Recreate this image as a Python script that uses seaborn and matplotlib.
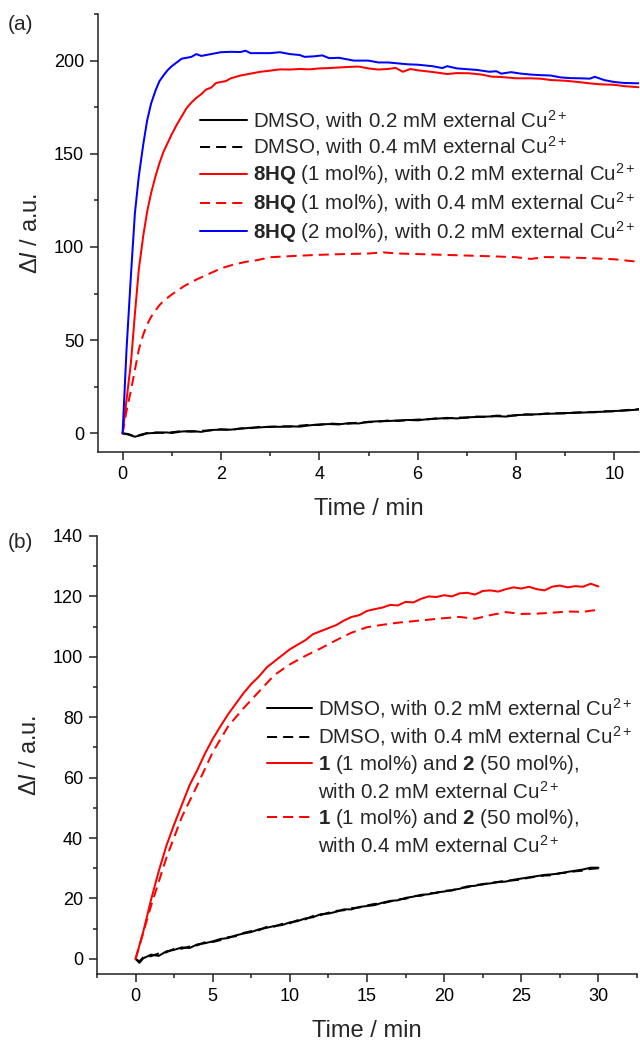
import matplotlib
matplotlib.use("Agg")
import matplotlib.pyplot as plt
import numpy as np
import pandas as pd
import seaborn as sns
from matplotlib.lines import Line2D
from matplotlib.ticker import MultipleLocator

# ---------------- Panel (a) data ----------------
a_t_black = [0, 0.1, 0.25, 0.4, 0.5, 0.7, 0.9, 1.0, 1.2, 1.4, 1.6, 1.8, 2.0, 2.2, 2.4, 2.6, 2.8, 3.0,
             3.2, 3.4, 3.6, 3.8, 4.0, 4.2, 4.4, 4.6, 4.8, 5.0, 5.2, 5.4, 5.6, 5.8, 6.0, 6.2, 6.4, 6.6,
             6.8, 7.0, 7.2, 7.4, 7.6, 7.8, 8.0, 8.2, 8.4, 8.6, 8.8, 9.0, 9.2, 9.4, 9.6, 9.8, 10.0, 10.2, 10.5]
a_dmso_02 = [0, -0.5, -1.8, -0.8, 0, 0.3, 0.5, 0.2, 1.0, 1.2, 0.8, 1.8, 2.0, 2.0, 2.5, 3.0, 3.2, 3.6,
             3.5, 3.8, 3.6, 4.3, 4.8, 5.0, 4.8, 5.5, 5.3, 6.2, 6.5, 6.6, 6.9, 7.2, 7.0, 7.6, 7.9, 8.3,
             8.0, 8.6, 8.8, 9.0, 9.2, 9.0, 9.8, 10.0, 10.2, 10.5, 10.6, 10.9, 11.0, 11.2, 11.5, 11.6, 12.0, 12.2, 12.8]
a_dmso_04 = [0, -0.3, -1.5, -0.5, 0.2, 0.5, 0.2, 0.6, 1.2, 0.9, 1.4, 1.6, 2.2, 1.8, 2.7, 2.8, 3.5, 3.4,
             3.8, 3.6, 4.1, 4.6, 4.5, 5.3, 5.0, 5.2, 5.8, 6.0, 6.3, 6.9, 6.7, 7.0, 7.4, 7.5, 8.1, 8.0,
             8.5, 8.4, 9.0, 8.8, 9.5, 9.4, 9.6, 10.2, 10.0, 10.6, 10.8, 10.7, 11.2, 11.4, 11.3, 11.9, 11.8, 12.4, 13.0]

a_t_red = [0, 0.08, 0.17, 0.25, 0.33, 0.42, 0.5, 0.58, 0.67, 0.75, 0.83, 0.92, 1.0, 1.1, 1.2, 1.3, 1.4,
           1.5, 1.6, 1.7, 1.8, 1.9, 2.0, 2.1, 2.2, 2.4, 2.6, 2.8, 3.0, 3.2, 3.4, 3.6, 3.8, 4.0, 4.2, 4.4,
           4.6, 4.8, 5.0, 5.2, 5.4, 5.55, 5.7, 5.85, 6.0, 6.3, 6.6, 6.8, 7.05, 7.3, 7.5, 7.7, 8.0, 8.3,
           8.5, 8.7, 9.0, 9.2, 9.5, 9.7, 10.0, 10.2, 10.5]
a_8hq1_02 = [0, 18, 38, 64, 88, 106, 119, 129, 138, 145, 151, 156, 160.5, 165.5, 170, 174.5, 177.5, 180,
             182, 184.5, 185.5, 188, 188.5, 189, 190.5, 192, 193, 194, 194.6, 195.3, 195.2, 195.5, 195.3,
             195.8, 196, 196.3, 196.6, 196.8, 195.8, 195.2, 195.5, 196.1, 194, 195.5, 194.8, 193.9,
             192.8, 193.3, 193.2, 192.5, 191.4, 191.2, 190.5, 190.5, 190.3, 189.6, 189.2, 188.7, 187.8,
             187.3, 187, 186.3, 185.7]

a_t_red_dash = [0, 0.08, 0.17, 0.25, 0.33, 0.42, 0.5, 0.58, 0.67, 0.75, 0.83, 1.0, 1.25, 1.5, 1.75, 2.0,
                2.25, 2.5, 2.75, 3.0, 3.5, 4.0, 4.5, 5.0, 5.3, 5.6, 6.0, 6.5, 7.0, 7.5, 8.0, 8.3, 8.6,
                9.0, 9.5, 10.0, 10.5]
a_8hq1_04 = [0, 12, 23, 34, 45, 53, 58.5, 62.5, 66, 68.8, 71, 74.5, 79, 82.5, 85.5, 88.5, 90.5, 92, 93,
             94.5, 95.2, 95.8, 96.2, 96.5, 97.1, 96.5, 96.2, 95.8, 95.4, 95, 94.5, 93.6, 94.6, 94.4,
             94, 93.4, 92]

a_t_blue = [0, 0.08, 0.17, 0.25, 0.33, 0.42, 0.5, 0.58, 0.67, 0.75, 0.83, 0.92, 1.0, 1.1, 1.2, 1.3,
            1.4, 1.5, 1.6, 1.8, 2.0, 2.2, 2.4, 2.5, 2.6, 2.8, 3.0, 3.2, 3.4, 3.6, 3.7, 3.9, 4.06, 4.2,
            4.4, 4.7, 5.0, 5.2, 5.4, 5.6, 5.8, 6.0, 6.3, 6.5, 6.6, 6.8, 7.05, 7.2, 7.46, 7.6, 7.7, 7.9,
            8.1, 8.3, 8.5, 8.7, 8.9, 9.1, 9.3, 9.5, 9.6, 9.8, 10.0, 10.2, 10.5]
a_8hq2_02 = [0, 45, 85, 118, 138, 155, 168, 177, 184, 189, 192, 195, 197, 199, 201, 201.5, 202, 203.5,
             202.5, 203.5, 204.5, 204.7, 204.6, 205.3, 204, 204, 204, 204.5, 203.5, 203, 202, 202.3,
             202.8, 201.3, 201.5, 200, 200, 199, 199, 198.5, 198, 197.8, 197, 196, 197, 195.8, 195.3,
             195, 194, 194.3, 193, 193.8, 193, 192.5, 192.2, 192, 191, 190.6, 190.5, 190.3, 191.3,
             189.5, 188.5, 188, 187.8]

# ---------------- Panel (b) data ----------------
b_t = [0, 0.25, 0.5, 1.0, 1.5, 2.0, 2.5, 3.0, 3.5, 4.0, 4.5, 5.0, 5.5, 6.0, 6.5, 7.0, 7.5, 8.0, 8.5,
       9.0, 9.5, 10.0, 10.5, 11.0, 11.5, 12.0, 12.5, 13.0, 13.5, 14.0, 14.5, 15.0, 15.5, 16.0, 16.5,
       17.0, 17.5, 18.0, 18.5, 19.0, 19.5, 20.0, 20.5, 21.0, 21.5, 22.0, 22.5, 23.0, 23.5, 24.0, 24.5,
       25.0, 25.5, 26.0, 26.5, 27.0, 27.5, 28.0, 28.5, 29.0, 29.5, 30.0]
b_dmso_02 = [0, -1.3, 0.2, 1.4, 1.0, 2.5, 3.0, 3.8, 3.6, 4.8, 5.2, 5.8, 6.6, 6.9, 7.8, 8.4, 8.9, 9.8,
             10.3, 10.9, 11.2, 12.1, 12.5, 13.4, 13.8, 14.8, 15.0, 15.6, 16.4, 16.4, 17.2, 17.5, 17.8,
             18.6, 19.2, 19.4, 20.2, 20.6, 21.2, 21.4, 22.0, 22.3, 22.8, 23.2, 24.0, 24.2, 24.8, 25.0,
             25.4, 25.6, 26.2, 26.6, 27.0, 27.4, 27.8, 28.0, 28.3, 28.8, 29.2, 29.6, 30.2, 30.2]
b_dmso_04 = [0, -0.8, 0.5, 0.9, 1.8, 2.2, 3.3, 3.4, 4.1, 4.5, 5.5, 5.6, 6.2, 7.2, 7.5, 8.6, 9.2, 9.5,
             10.6, 10.7, 11.6, 11.8, 12.8, 13.1, 14.2, 14.5, 15.3, 15.9, 16.1, 16.8, 17.0, 17.7, 18.2,
             18.4, 19.0, 19.7, 19.9, 20.8, 20.9, 21.7, 21.8, 22.6, 22.6, 23.5, 23.7, 24.5, 24.6, 25.2,
             25.5, 25.9, 26.0, 26.3, 26.9, 27.2, 27.6, 27.7, 28.4, 28.6, 29.0, 29.2, 29.8, 30.0]
b_cat_02 = [0, 4.5, 9, 19.5, 29, 37.5, 44.5, 51, 57.5, 62.5, 68, 72.8, 77, 81, 84.5, 88, 91, 93.5, 96.5,
            98.5, 100.5, 102.5, 104, 105.5, 107.5, 108.5, 109.5, 110.5, 112, 113.2, 113.8, 115.2, 115.8,
            116.3, 117.2, 117.0, 118.2, 118.0, 119.2, 120.0, 119.8, 120.4, 120.0, 121.0, 121.2, 120.6,
            121.8, 122.0, 121.6, 122.4, 123.0, 122.6, 123.2, 122.4, 122.0, 123.2, 123.6, 123.0, 123.4,
            123.2, 124.2, 123.3]

b_t_dash = [0, 1, 2, 3, 4, 5, 6, 7, 8, 9, 10, 11, 12, 13, 14, 15, 16, 17, 18, 19, 20, 21, 22, 23, 24,
            25, 26, 27, 28, 29, 30]
b_cat_04 = [0, 17.5, 33.5, 47, 57.5, 68.4, 77, 83, 88.5, 94, 97.5, 100.3, 102.8, 105.5, 108, 109.8,
            110.6, 111.3, 111.8, 112.3, 112.8, 113.2, 112.6, 113.8, 114.8, 114.2, 114.3, 114.6, 115,
            114.9, 115.6]

CU = r"C$\mathrm{u}^{2+}$"
labels_a = ["DMSO, with 0.2 mM external " + CU,
            "DMSO, with 0.4 mM external " + CU,
            r"$\mathbf{8HQ}$ (1 mol%), with 0.2 mM external " + CU,
            r"$\mathbf{8HQ}$ (1 mol%), with 0.4 mM external " + CU,
            r"$\mathbf{8HQ}$ (2 mol%), with 0.2 mM external " + CU]
labels_b = ["DMSO, with 0.2 mM external " + CU,
            "DMSO, with 0.4 mM external " + CU,
            r"$\mathbf{1}$ (1 mol%) and $\mathbf{2}$ (50 mol%),",
            "with 0.2 mM external " + CU,
            r"$\mathbf{1}$ (1 mol%) and $\mathbf{2}$ (50 mol%),",
            "with 0.4 mM external " + CU]

# ---------------- Style ----------------
sns.set_theme(style="ticks")
plt.rcParams["font.family"] = ["Liberation Sans", "DejaVu Sans"]
plt.rcParams["mathtext.fontset"] = "custom"
plt.rcParams["mathtext.rm"] = "Liberation Sans"
plt.rcParams["mathtext.it"] = "Liberation Sans:italic"
plt.rcParams["mathtext.bf"] = "Liberation Sans:bold"
plt.rcParams["axes.linewidth"] = 1.1
plt.rcParams["axes.edgecolor"] = "#222222"

LW = 1.45
DASH = (0, (5.0, 3.0))
RED = "#ff0000"
BLUE = "#0000ff"
BLACK = "#000000"

fig = plt.figure(figsize=(6.40, 10.43), dpi=100)
ax_a = fig.add_axes([98 / 640, 1 - 452 / 1043, 541 / 640, 438 / 1043])
ax_b = fig.add_axes([97 / 640, 1 - 974 / 1043, 540 / 640, 438 / 1043])


def draw(ax, x, y, color, ls):
    sns.lineplot(x=x, y=y, ax=ax, color=color, linestyle=ls, linewidth=LW,
                 estimator=None, sort=False, legend=False)


# panel a
draw(ax_a, a_t_black, a_dmso_02, BLACK, "-")
draw(ax_a, a_t_black, a_dmso_04, BLACK, DASH)
draw(ax_a, a_t_red, a_8hq1_02, RED, "-")
draw(ax_a, a_t_red_dash, a_8hq1_04, RED, DASH)
draw(ax_a, a_t_blue, a_8hq2_02, BLUE, "-")

# panel b
draw(ax_b, b_t, b_dmso_02, BLACK, "-")
draw(ax_b, b_t, b_dmso_04, BLACK, DASH)
draw(ax_b, b_t, b_cat_02, RED, "-")
draw(ax_b, b_t_dash, b_cat_04, RED, DASH)

for ax in (ax_a, ax_b):
    for side in ("top", "right"):
        ax.spines[side].set_visible(False)
    ax.tick_params(axis="both", which="major", direction="out", length=6, width=1.1,
                   labelsize=13, pad=4, color="#222222", labelcolor="black")
    ax.tick_params(axis="both", which="minor", direction="out", length=3, width=1.1,
                   color="#222222")
    ax.set_xlabel("Time / min", fontsize=17, labelpad=11)
    ax.set_ylabel(r"Δ$\mathit{I}$ / a.u.", fontsize=17)
    ax.yaxis.set_label_coords(-0.104, 0.5)
    ax.set_facecolor("white")

ax_a.set_xlim(-0.5, 10.5)
ax_a.set_ylim(-10, 225)
ax_a.xaxis.set_major_locator(MultipleLocator(2))
ax_a.xaxis.set_minor_locator(MultipleLocator(1))
ax_a.yaxis.set_major_locator(MultipleLocator(50))
ax_a.yaxis.set_minor_locator(MultipleLocator(25))

ax_b.set_xlim(-2.5, 32.5)
ax_b.set_ylim(-5, 140)
ax_b.xaxis.set_major_locator(MultipleLocator(5))
ax_b.xaxis.set_minor_locator(MultipleLocator(2.5))
ax_b.yaxis.set_major_locator(MultipleLocator(20))
ax_b.yaxis.set_minor_locator(MultipleLocator(10))

# legends
la = ax_a.get_lines()
leg_a = ax_a.legend(la[:5], labels_a, loc="upper left", bbox_to_anchor=(0.1885, 0.786),
                    frameon=False, fontsize=14.8, handlelength=2.3, handletextpad=0.3,
                    labelspacing=0.14, borderpad=0, borderaxespad=0)

lb = ax_b.get_lines()
blank = Line2D([], [], linestyle="none")
leg_b = ax_b.legend([lb[0], lb[1], lb[2], blank, lb[3], blank], labels_b, loc="upper left",
                    bbox_to_anchor=(0.315, 0.635), frameon=False, fontsize=14.8,
                    handlelength=2.2, handletextpad=0.3, labelspacing=0.23,
                    borderpad=0, borderaxespad=0)

fig.text(8 / 640, 1 - 25 / 1043, "(a)", fontsize=15, va="center", ha="left")
fig.text(8 / 640, 1 - 543 / 1043, "(b)", fontsize=15, va="center", ha="left")

fig.savefig("out.png", dpi=100, facecolor="white")
